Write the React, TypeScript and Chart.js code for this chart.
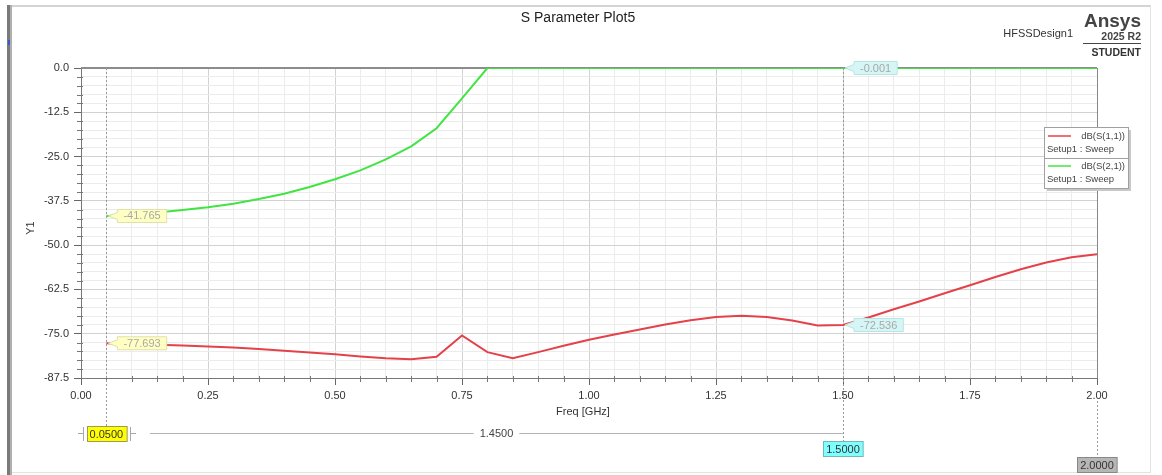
import React, { useEffect, useRef } from "react";
import { Chart, registerables } from "chart.js";

Chart.register(...registerables);

// ---- data ----
const freqGHz = [
  0.05, 0.1, 0.15, 0.2, 0.25, 0.3, 0.35, 0.4, 0.45, 0.5,
  0.55, 0.6, 0.65, 0.7, 0.75, 0.8, 0.85, 0.9, 0.95, 1.0,
  1.05, 1.1, 1.15, 1.2, 1.25, 1.3, 1.35, 1.4, 1.45, 1.5,
  1.55, 1.6, 1.65, 1.7, 1.75, 1.8, 1.85, 1.9, 1.95, 2.0,
];

const dbS11 = [
  -77.693, -77.9, -78.1, -78.3, -78.6, -78.9, -79.3, -79.8, -80.3, -80.8,
  -81.4, -81.9, -82.2, -81.5, -75.5, -80.2, -81.9, -80.2, -78.4, -76.7,
  -75.2, -73.8, -72.4, -71.2, -70.3, -69.9, -70.3, -71.3, -72.7, -72.536,
  -70.4, -68.1, -65.9, -63.6, -61.3, -59.0, -56.8, -54.9, -53.4, -52.6,
];

const dbS21 = [
  -41.765, -41.4, -40.8, -40.1, -39.3, -38.3, -37.0, -35.5, -33.6, -31.4,
  -28.9, -25.8, -22.1, -17.0, -8.6, -0.001, -0.001, -0.001, -0.001, -0.001,
  -0.001, -0.001, -0.001, -0.001, -0.001, -0.001, -0.001, -0.001, -0.001, -0.001,
  -0.001, -0.001, -0.001, -0.001, -0.001, -0.001, -0.001, -0.001, -0.001, -0.001,
];

const seriesNames = ["dB(S(1,1))", "dB(S(2,1))"];
const seriesSetup = ["Setup1 : Sweep", "Setup1 : Sweep"];
const seriesColors = ["#e4424a", "#42e442"];

const markerFreqs = [0.05, 1.5];
const sweepEnd = 2.0;

const xMin = 0, xMax = 2.0, xMajor = 0.25, xMinor = 0.05;
const yMin = -87.5, yMax = 0, yMajor = 12.5, yMinor = 2.5;

const titleText = "S Parameter Plot5";
const xTitle = "Freq [GHz]";
const yTitle = "Y1";

const FONT = "'Liberation Sans', Arial, sans-serif";

const isMult = (v: number, step: number) => {
  const r = v / step;
  return Math.abs(r - Math.round(r)) < 1e-6;
};

function drawTag(ctx: CanvasRenderingContext2D, px: number, py: number, text: string, bg: string, border: string) {
  ctx.save();
  ctx.font = `11px ${FONT}`;
  const w = ctx.measureText(text).width + 12;
  const h = 13;
  const x0 = px + 11;
  const y0 = py - h / 2;
  ctx.fillStyle = bg;
  ctx.strokeStyle = border;
  ctx.lineWidth = 1;
  ctx.beginPath();
  ctx.moveTo(px + 2, py);
  ctx.lineTo(x0, y0 + 3);
  ctx.lineTo(x0, y0);
  ctx.lineTo(x0 + w, y0);
  ctx.lineTo(x0 + w, y0 + h);
  ctx.lineTo(x0, y0 + h);
  ctx.lineTo(x0, y0 + h - 3);
  ctx.closePath();
  ctx.fill();
  ctx.stroke();
  ctx.fillStyle = "#a8a8a8";
  ctx.textAlign = "left";
  ctx.textBaseline = "middle";
  ctx.fillText(text, x0 + 6, py + 0.5);
  ctx.restore();
}

function drawBox(ctx: CanvasRenderingContext2D, cx: number, top: number, text: string, bg: string, border: string) {
  ctx.save();
  ctx.font = `11px ${FONT}`;
  const w = ctx.measureText(text).width + 6;
  const h = 15;
  const x0 = Math.round(cx - w / 2) + 0.5;
  ctx.fillStyle = bg;
  ctx.fillRect(x0, top + 0.5, w, h);
  ctx.strokeStyle = border;
  ctx.lineWidth = 1;
  ctx.strokeRect(x0, top + 0.5, w, h);
  ctx.fillStyle = "#333";
  ctx.textAlign = "center";
  ctx.textBaseline = "middle";
  ctx.fillText(text, cx, top + h / 2 + 1);
  ctx.restore();
}

const decor = {
  id: "ansysDecor",
  beforeDraw(chart: any) {
    const { ctx, width, height } = chart;
    ctx.save();
    ctx.fillStyle = "#ffffff";
    ctx.fillRect(0, 0, width, height);
    ctx.restore();
  },
  beforeDatasetsDraw(chart: any) {
    const { ctx, chartArea } = chart;
    const xs = chart.scales.x;
    const ys = chart.scales.y;
    ctx.save();
    // minor tick marks
    ctx.strokeStyle = "#777";
    ctx.lineWidth = 1;
    xs.ticks.forEach((t: any) => {
      if (isMult(t.value, xMajor)) return;
      const px = Math.round(xs.getPixelForValue(t.value)) + 0.5;
      ctx.beginPath();
      ctx.moveTo(px, chartArea.bottom - 2);
      ctx.lineTo(px, chartArea.bottom + 4);
      ctx.stroke();
    });
    ys.ticks.forEach((t: any) => {
      if (isMult(t.value, yMajor)) return;
      const py = Math.round(ys.getPixelForValue(t.value)) + 0.5;
      ctx.beginPath();
      ctx.moveTo(chartArea.left - 4, py);
      ctx.lineTo(chartArea.left + 2, py);
      ctx.stroke();
    });
    // top and right borders
    ctx.strokeStyle = "#8c8c8c";
    ctx.lineWidth = 2;
    ctx.beginPath();
    ctx.moveTo(chartArea.left, chartArea.top);
    ctx.lineTo(chartArea.right, chartArea.top);
    ctx.stroke();
    ctx.lineWidth = 1;
    ctx.strokeStyle = "#888";
    ctx.beginPath();
    ctx.moveTo(Math.round(chartArea.right) + 0.5, chartArea.top);
    ctx.lineTo(Math.round(chartArea.right) + 0.5, chartArea.bottom);
    ctx.stroke();
    // marker dashed lines
    ctx.setLineDash([2, 2]);
    ctx.strokeStyle = "#9a9a9a";
    const m0 = Math.round(xs.getPixelForValue(markerFreqs[0])) + 0.5;
    const m1 = Math.round(xs.getPixelForValue(markerFreqs[1])) + 0.5;
    const mEnd = Math.round(xs.getPixelForValue(sweepEnd)) + 0.5;
    ctx.beginPath();
    ctx.moveTo(m0, chartArea.top);
    ctx.lineTo(m0, 427);
    ctx.moveTo(m1, chartArea.top);
    ctx.lineTo(m1, 441);
    ctx.moveTo(mEnd, 401);
    ctx.lineTo(mEnd, 457);
    ctx.stroke();
    ctx.restore();
  },
  afterDraw(chart: any) {
    const { ctx } = chart;
    const xs = chart.scales.x;
    const ys = chart.scales.y;
    ctx.save();

    // outer frame
    ctx.fillStyle = "#d4d4d4";
    ctx.fillRect(8, 5, 1143, 2);
    ctx.fillStyle = "#e2e2e2";
    ctx.fillRect(1150, 5, 1, 468);
    ctx.fillRect(8, 472, 1143, 1);
    ctx.fillStyle = "#7a7a7a";
    ctx.fillRect(7, 5, 3, 470);
    ctx.fillStyle = "#b0b0b0";
    ctx.fillRect(10, 5, 2, 470);
    ctx.fillStyle = "#3a5bd0";
    ctx.fillRect(8, 40, 2, 5);

    // title
    ctx.fillStyle = "#222";
    ctx.font = `14px ${FONT}`;
    ctx.textAlign = "center";
    ctx.textBaseline = "middle";
    ctx.fillText(titleText, 578, 18);

    // design name + logo
    ctx.font = `11px ${FONT}`;
    ctx.textAlign = "right";
    ctx.fillStyle = "#333";
    ctx.fillText("HFSSDesign1", 1073, 34);
    ctx.font = `bold 19px ${FONT}`;
    ctx.fillStyle = "#444";
    ctx.fillText("Ansys", 1141, 22);
    ctx.font = `bold 10.5px ${FONT}`;
    ctx.fillText("2025 R2", 1141, 37);
    ctx.fillRect(1083, 43, 58, 1);
    ctx.fillStyle = "#333";
    ctx.fillText("STUDENT", 1141, 53);

    // axis titles
    ctx.font = `11px ${FONT}`;
    ctx.fillStyle = "#333";
    ctx.textAlign = "center";
    ctx.fillText(xTitle, 583, 412);
    ctx.save();
    ctx.translate(31, 228);
    ctx.rotate(-Math.PI / 2);
    ctx.fillText(yTitle, 0, 0);
    ctx.restore();

    // legend
    const lx = 1044, ly = 127, lw = 84, lh = 61;
    ctx.fillStyle = "#c8c8c8";
    ctx.fillRect(lx + 3, ly + 3, lw, lh);
    ctx.fillStyle = "#ffffff";
    ctx.fillRect(lx, ly, lw, lh);
    ctx.strokeStyle = "#a0a0a0";
    ctx.lineWidth = 1;
    ctx.strokeRect(lx + 0.5, ly + 0.5, lw, lh);
    ctx.beginPath();
    ctx.moveTo(lx, ly + 31.5);
    ctx.lineTo(lx + lw, ly + 31.5);
    ctx.stroke();
    ctx.font = `9.5px ${FONT}`;
    ctx.textBaseline = "middle";
    seriesNames.forEach((name, i) => {
      const rowY = ly + 9 + i * 30;
      ctx.strokeStyle = seriesColors[i];
      ctx.lineWidth = 1.5;
      ctx.beginPath();
      ctx.moveTo(lx + 4, rowY);
      ctx.lineTo(lx + 27, rowY);
      ctx.stroke();
      ctx.fillStyle = "#444";
      ctx.textAlign = "right";
      ctx.fillText(name, lx + lw - 3, rowY);
      ctx.textAlign = "left";
      ctx.fillText(seriesSetup[i], lx + 3, rowY + 13);
    });

    // marker value tags
    const series = [dbS11, dbS21];
    const idx0 = freqGHz.findIndex((f) => Math.abs(f - markerFreqs[0]) < 1e-9);
    const idx1 = freqGHz.findIndex((f) => Math.abs(f - markerFreqs[1]) < 1e-9);
    series.forEach((s) => {
      drawTag(ctx, xs.getPixelForValue(markerFreqs[0]), ys.getPixelForValue(s[idx0]), s[idx0].toFixed(3), "#ffffc4", "#e0e0a8");
      drawTag(ctx, xs.getPixelForValue(markerFreqs[1]), ys.getPixelForValue(s[idx1]), s[idx1].toFixed(3), "#d6f6f6", "#b8e4e4");
    });

    // bottom marker band
    const m0 = xs.getPixelForValue(markerFreqs[0]);
    const m1 = xs.getPixelForValue(markerFreqs[1]);
    const mEnd = xs.getPixelForValue(sweepEnd);
    const bandY = 433.5;
    ctx.strokeStyle = "#a8a8a8";
    ctx.lineWidth = 1;
    ctx.beginPath();
    ctx.moveTo(78, bandY); ctx.lineTo(83, bandY);
    ctx.moveTo(83.5, 427); ctx.lineTo(83.5, 441);
    ctx.moveTo(130.5, 427); ctx.lineTo(130.5, 441);
    ctx.moveTo(130, bandY); ctx.lineTo(136, bandY);
    ctx.stroke();
    const deltaText = (markerFreqs[1] - markerFreqs[0]).toFixed(4);
    const mid = (150 + m1) / 2;
    ctx.font = `11px ${FONT}`;
    const tw = ctx.measureText(deltaText).width;
    ctx.strokeStyle = "#b4b4b4";
    ctx.beginPath();
    ctx.moveTo(150, bandY); ctx.lineTo(mid - tw / 2 - 6, bandY);
    ctx.moveTo(mid + tw / 2 + 6, bandY); ctx.lineTo(m1, bandY);
    ctx.stroke();
    ctx.fillStyle = "#444";
    ctx.textAlign = "center";
    ctx.textBaseline = "middle";
    ctx.fillText(deltaText, mid, bandY);

    drawBox(ctx, m0, 426, markerFreqs[0].toFixed(4), "#ffff00", "#9a9a60");
    drawBox(ctx, m1, 441, markerFreqs[1].toFixed(4), "#80ffff", "#70b8b8");
    drawBox(ctx, mEnd, 457, sweepEnd.toFixed(4), "#b6b6b6", "#888");

    ctx.restore();
  },
};

export default function App() {
  const ref = useRef<HTMLCanvasElement | null>(null);
  useEffect(() => {
    if (!ref.current) return;
    const chart = new Chart(ref.current, {
      type: "line",
      data: {
        datasets: [
          {
            label: seriesNames[0],
            data: freqGHz.map((f, i) => ({ x: f, y: dbS11[i] })),
            borderColor: seriesColors[0],
            borderWidth: 2,
            pointRadius: 0,
            tension: 0,
          },
          {
            label: seriesNames[1],
            data: freqGHz.map((f, i) => ({ x: f, y: dbS21[i] })),
            borderColor: seriesColors[1],
            borderWidth: 2,
            pointRadius: 0,
            tension: 0,
          },
        ],
      },
      options: {
        animation: false,
        responsive: false,
        devicePixelRatio: 1,
        layout: { padding: { left: 8, top: 68, right: 65, bottom: 67 } },
        plugins: { legend: { display: false }, title: { display: false }, tooltip: { enabled: false } },
        scales: {
          x: {
            type: "linear",
            min: xMin,
            max: xMax,
            afterFit: (s: any) => { s.height = 30; },
            ticks: {
              stepSize: xMinor,
              autoSkip: false,
              maxRotation: 0,
              padding: 4,
              color: "#333",
              font: { family: FONT, size: 11 },
              callback: (v: any) => (isMult(Number(v), xMajor) ? Number(v).toFixed(2) : ""),
            },
            grid: {
              color: (c: any) => (isMult(c.tick.value, xMajor) ? "#d2d2d2" : "#ececec"),
              tickColor: (c: any) => (isMult(c.tick.value, xMajor) ? "#666" : "rgba(0,0,0,0)"),
              tickLength: 7,
            },
            border: { color: "#777", width: 1 },
          },
          y: {
            type: "linear",
            min: yMin,
            max: yMax,
            afterFit: (s: any) => { s.width = 73; },
            ticks: {
              stepSize: yMinor,
              autoSkip: false,
              padding: 5,
              color: "#333",
              font: { family: FONT, size: 11 },
              callback: (v: any) => (isMult(Number(v), yMajor) ? Number(v).toFixed(1) : ""),
            },
            grid: {
              color: (c: any) => (isMult(c.tick.value, yMajor) ? "#d2d2d2" : "#ececec"),
              tickColor: (c: any) => (isMult(c.tick.value, yMajor) ? "#666" : "rgba(0,0,0,0)"),
              tickLength: 7,
            },
            border: { color: "#777", width: 1 },
          },
        },
      },
      plugins: [decor],
    } as any);
    return () => chart.destroy();
  }, []);
  return (
    <div style={{ position: "fixed", left: 0, top: 0, width: 1162, height: 475 }}>
      <canvas ref={ref} width={1162} height={475} style={{ display: "block" }} />
    </div>
  );
}
